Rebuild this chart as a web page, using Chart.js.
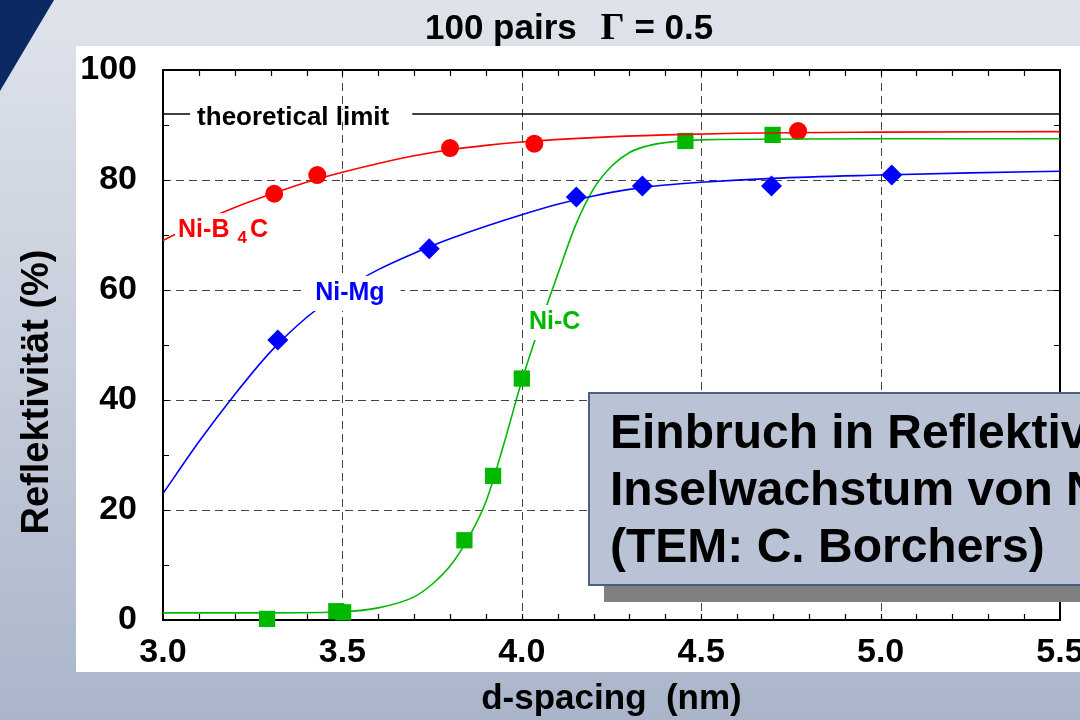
<!doctype html>
<html lang="de">
<head>
<meta charset="UTF-8" />
<title>Reflektivität vs. d-spacing</title>
<script src="https://cdn.jsdelivr.net/npm/chart.js@4.4.1/dist/chart.umd.min.js"></script>
<style>
    html, body { margin: 0; padding: 0; }
    body {
        width: 1080px; height: 720px; overflow: hidden; position: relative;
        background: linear-gradient(to bottom, #dfe3eb 0px, #dbe0e9 45px, #c8cfdc 330px, #aab5ca 720px);
        font-family: "Liberation Sans", Arial, sans-serif;
    }
    .corner {
        position: absolute; left: 0; top: 0; width: 60px; height: 95px;
        background: #0b2a64; clip-path: polygon(0 0, 54px 0, 0 91px);
    }
    .panel { position: absolute; left: 76px; top: 46px; width: 1004px; height: 626px; background: #fff; }
    #chart { position: absolute; left: 0; top: 0; }
    .title {
        position: absolute; left: 425px; top: 9px; font-weight: bold;
        font-size: 35px; line-height: 34px; white-space: nowrap; color: #000;
    }
    .title .gamma { font-family: "Liberation Serif", serif; font-size: 38px; margin-left: 14px; }
    .ytitle {
        position: absolute; left: -165px; top: 370px; width: 400px; height: 44px;
        line-height: 44px; text-align: center; font-weight: bold; font-size: 38px;
        transform: rotate(-90deg); white-space: nowrap; color: #000;
    }
    .note {
        position: absolute; left: 588px; top: 392px; width: 540px; height: 194px;
        box-sizing: border-box; background: #b9c3d5; border: 2px solid #4d5f80;
        box-shadow: 16px 16px 0 #808080; padding: 9px 0 0 20px;
        font-weight: bold; font-size: 48px; line-height: 57px; white-space: nowrap; color: #000;
    }
</style>
</head>
<body>
<div class="corner"></div>
<div class="panel"></div>
<canvas id="chart" width="1080" height="720"></canvas>
<div class="title">100 pairs <span class="gamma">Γ</span> = 0.5</div>
<div class="ytitle">Reflektivität (%)</div>
<div class="note">Einbruch in Reflektivität durch<br>Inselwachstum von Ni auf C<br>(TEM: C. Borchers)</div>

<script>
    // measured points
    const b4cD = [3.31, 3.43, 3.80, 4.035, 4.77];
    const b4cR = [77.5, 80.9, 85.8, 86.6, 88.9];

    const mgD = [3.32, 3.742, 4.152, 4.336, 4.696, 5.031];
    const mgR = [50.9, 67.5, 76.9, 78.9, 78.9, 80.9];

    const cD = [3.29, 3.483, 3.502, 3.84, 3.92, 4.0, 4.456, 4.699];
    const cR = [0.2, 1.6, 1.4, 14.5, 26.2, 43.9, 87.1, 88.2];

    // fitted curves
    const b4cFitD = [3.0, 3.1, 3.2, 3.3, 3.4, 3.5, 3.6, 3.7, 3.8, 3.9, 4.0, 4.2, 4.4, 4.6, 5.0, 5.5];
    const b4cFitR = [69.0, 72.2, 75.0, 77.4, 79.6, 81.4, 83.0, 84.4, 85.5, 86.3, 86.9, 87.7, 88.2, 88.5, 88.7, 88.8];

    const mgFitD = [3.0, 3.1, 3.2, 3.3, 3.4, 3.5, 3.6, 3.7, 3.8, 3.9, 4.0, 4.1, 4.2, 4.3, 4.4, 4.5, 4.7, 5.0, 5.25, 5.5];
    const mgFitR = [23.0, 32.4, 41.0, 48.8, 55.0, 59.9, 63.7, 66.7, 69.3, 71.6, 73.7, 75.6, 77.1, 78.3, 79.1, 79.6, 80.3, 80.9, 81.3, 81.6];

    const cFitD = [3.0, 3.3, 3.5, 3.6, 3.7, 3.75, 3.8, 3.85, 3.9, 3.95, 4.0, 4.05, 4.1, 4.15, 4.2, 4.25, 4.3, 4.35, 4.4, 4.5, 5.0, 5.5];
    const cFitR = [1.3, 1.3, 1.5, 2.2, 4.2, 6.5, 9.8, 14.8, 21.5, 32.0, 43.5, 53.5, 62.8, 71.8, 78.4, 82.5, 85.0, 86.2, 86.8, 87.3, 87.5, 87.5];

    const limitD = [3.0, 5.5];
    const limitR = [92, 92];

    const xTicks = [3.0, 3.5, 4.0, 4.5, 5.0, 5.5];
    const yTicks = [0, 20, 40, 60, 80, 100];

    const FONT = '"Liberation Sans", Arial, sans-serif';
    const RED = "#ff0000";
    const BLUE = "#0000ff";
    const GREEN = "#00b800";

    function pts(xs, ys) {
        return xs.map((v, i) => ({ x: v, y: ys[i] }));
    }

    function curve(xs, ys, color) {
        return {
            data: pts(xs, ys),
            showLine: true,
            borderColor: color,
            borderWidth: 1.6,
            pointRadius: 0,
            cubicInterpolationMode: "monotone",
        };
    }

    function markers(xs, ys, color, style, r) {
        return {
            data: pts(xs, ys),
            showLine: false,
            pointStyle: style,
            pointRadius: r,
            pointBackgroundColor: color,
            pointBorderWidth: 0,
            clip: false,
        };
    }

    // curve labels: text parts [text, size, dy, dx], data position of text start / baseline,
    // and the white gap left/right of them
    const curveLabels = [
        { parts: [["Ni-B", 25, 0, 0], ["4", 17, 6, 8], ["C", 25, 0, 3]], d: 3.042, r: 69.6, color: RED, pad: [3, 3] },
        { parts: [["Ni-Mg", 25, 0, 0]], d: 3.424, r: 58.2, color: BLUE, pad: [13, 16] },
        { parts: [["Ni-C", 25, 0, 0]], d: 4.02, r: 52.9, color: GREEN, pad: [4, 4] },
    ];

    const framePlugin = {
        id: "frame",
        beforeDatasetsDraw(chart) {
            const { ctx, chartArea: a, scales } = chart;
            const x = scales.x, y = scales.y;
            ctx.save();
            // dashed grid
            ctx.strokeStyle = "#444";
            ctx.lineWidth = 1;
            ctx.setLineDash([8, 5]);
            yTicks.slice(1, -1).forEach((v) => {
                const py = Math.round(y.getPixelForValue(v)) + 0.5;
                ctx.beginPath(); ctx.moveTo(a.left, py); ctx.lineTo(a.right, py); ctx.stroke();
            });
            xTicks.slice(1, -1).forEach((v) => {
                const px = Math.round(x.getPixelForValue(v)) + 0.5;
                ctx.beginPath(); ctx.moveTo(px, a.top); ctx.lineTo(px, a.bottom); ctx.stroke();
            });
            ctx.setLineDash([]);
            // minor ticks, inside, on all four sides
            ctx.strokeStyle = "#000";
            ctx.lineWidth = 1.2;
            for (let i = 1; i < 25; i++) {
                const px = Math.round(x.getPixelForValue(3 + i * 0.1)) + 0.5;
                ctx.beginPath();
                ctx.moveTo(px, a.bottom); ctx.lineTo(px, a.bottom - 6);
                ctx.moveTo(px, a.top); ctx.lineTo(px, a.top + 6);
                ctx.stroke();
            }
            for (let i = 1; i < 10; i++) {
                const py = Math.round(y.getPixelForValue(i * 10)) + 0.5;
                ctx.beginPath();
                ctx.moveTo(a.left, py); ctx.lineTo(a.left + 6, py);
                ctx.moveTo(a.right, py); ctx.lineTo(a.right - 6, py);
                ctx.stroke();
            }
            ctx.lineWidth = 2;
            ctx.strokeRect(a.left, a.top, a.right - a.left, a.bottom - a.top);
            ctx.restore();
        },
        afterDatasetsDraw(chart) {
            const { ctx, scales } = chart;
            const x = scales.x, y = scales.y;
            ctx.save();
            ctx.textBaseline = "alphabetic";

            // theoretical limit label sits on the limit line
            const ly = y.getPixelForValue(limitR[0]);
            const lx = x.getPixelForValue(3.095);
            ctx.font = "bold 26px " + FONT;
            const lw = ctx.measureText("theoretical limit").width;
            ctx.fillStyle = "#fff";
            ctx.fillRect(lx - 7, ly - 4, lw + 30, 8);
            ctx.fillStyle = "#000";
            ctx.fillText("theoretical limit", lx, ly + 11);

            curveLabels.forEach((lab) => {
                const px = x.getPixelForValue(lab.d);
                const py = y.getPixelForValue(lab.r);
                let w = 0;
                lab.parts.forEach(([t, s, dy, dx]) => {
                    ctx.font = "bold " + s + "px " + FONT;
                    w += dx + ctx.measureText(t).width;
                });
                ctx.fillStyle = "#fff";
                ctx.fillRect(px - lab.pad[0], py - 24, w + lab.pad[0] + lab.pad[1], 35);
                ctx.fillStyle = lab.color;
                let cx = px;
                lab.parts.forEach(([t, s, dy, dx]) => {
                    ctx.font = "bold " + s + "px " + FONT;
                    cx += dx;
                    ctx.fillText(t, cx, py + dy);
                    cx += ctx.measureText(t).width;
                });
            });
            ctx.restore();
        },
    };

    const tickFont = { family: FONT, size: 34, weight: "bold" };

    new Chart(document.getElementById("chart"), {
        type: "scatter",
        data: {
            datasets: [
                { data: pts(limitD, limitR), showLine: true, borderColor: "#000", borderWidth: 1.6, pointRadius: 0 },
                curve(b4cFitD, b4cFitR, RED),
                curve(mgFitD, mgFitR, BLUE),
                curve(cFitD, cFitR, GREEN),
                markers(b4cD, b4cR, RED, "circle", 9),
                markers(mgD, mgR, BLUE, "rectRot", 10.5),
                markers(cD, cR, GREEN, "rect", 11.5),
            ],
        },
        options: {
            responsive: false,
            animation: false,
            layout: { padding: { left: 0, right: 20, top: 70, bottom: 0 } },
            plugins: { legend: { display: false }, tooltip: { enabled: false } },
            scales: {
                x: {
                    type: "linear",
                    min: 3,
                    max: 5.5,
                    grid: { display: false, drawTicks: false },
                    border: { display: false },
                    afterBuildTicks(s) {
                        s.ticks = xTicks.map((v) => ({ value: v }));
                    },
                    ticks: {
                        callback: (v) => Number(v).toFixed(1),
                        font: tickFont,
                        color: "#000",
                        padding: 12,
                        maxRotation: 0,
                        autoSkip: false,
                    },
                    title: {
                        display: true,
                        text: "d-spacing  (nm)",
                        font: { family: FONT, size: 35, weight: "bold" },
                        color: "#000",
                        padding: { top: 0, bottom: 0 },
                    },
                    afterFit(s) {
                        s.height = 100;
                        s.paddingLeft = 0;
                        s.paddingRight = 0;
                    },
                },
                y: {
                    min: 0,
                    max: 100,
                    grid: { display: false, drawTicks: false },
                    border: { display: false },
                    afterBuildTicks(s) {
                        s.ticks = yTicks.map((v) => ({ value: v }));
                    },
                    ticks: { font: tickFont, color: "#000", padding: 26 },
                    afterFit(s) {
                        s.width = 163;
                        s.paddingTop = 0;
                        s.paddingBottom = 0;
                    },
                },
            },
        },
        plugins: [framePlugin],
    });
</script>
</body>
</html>
